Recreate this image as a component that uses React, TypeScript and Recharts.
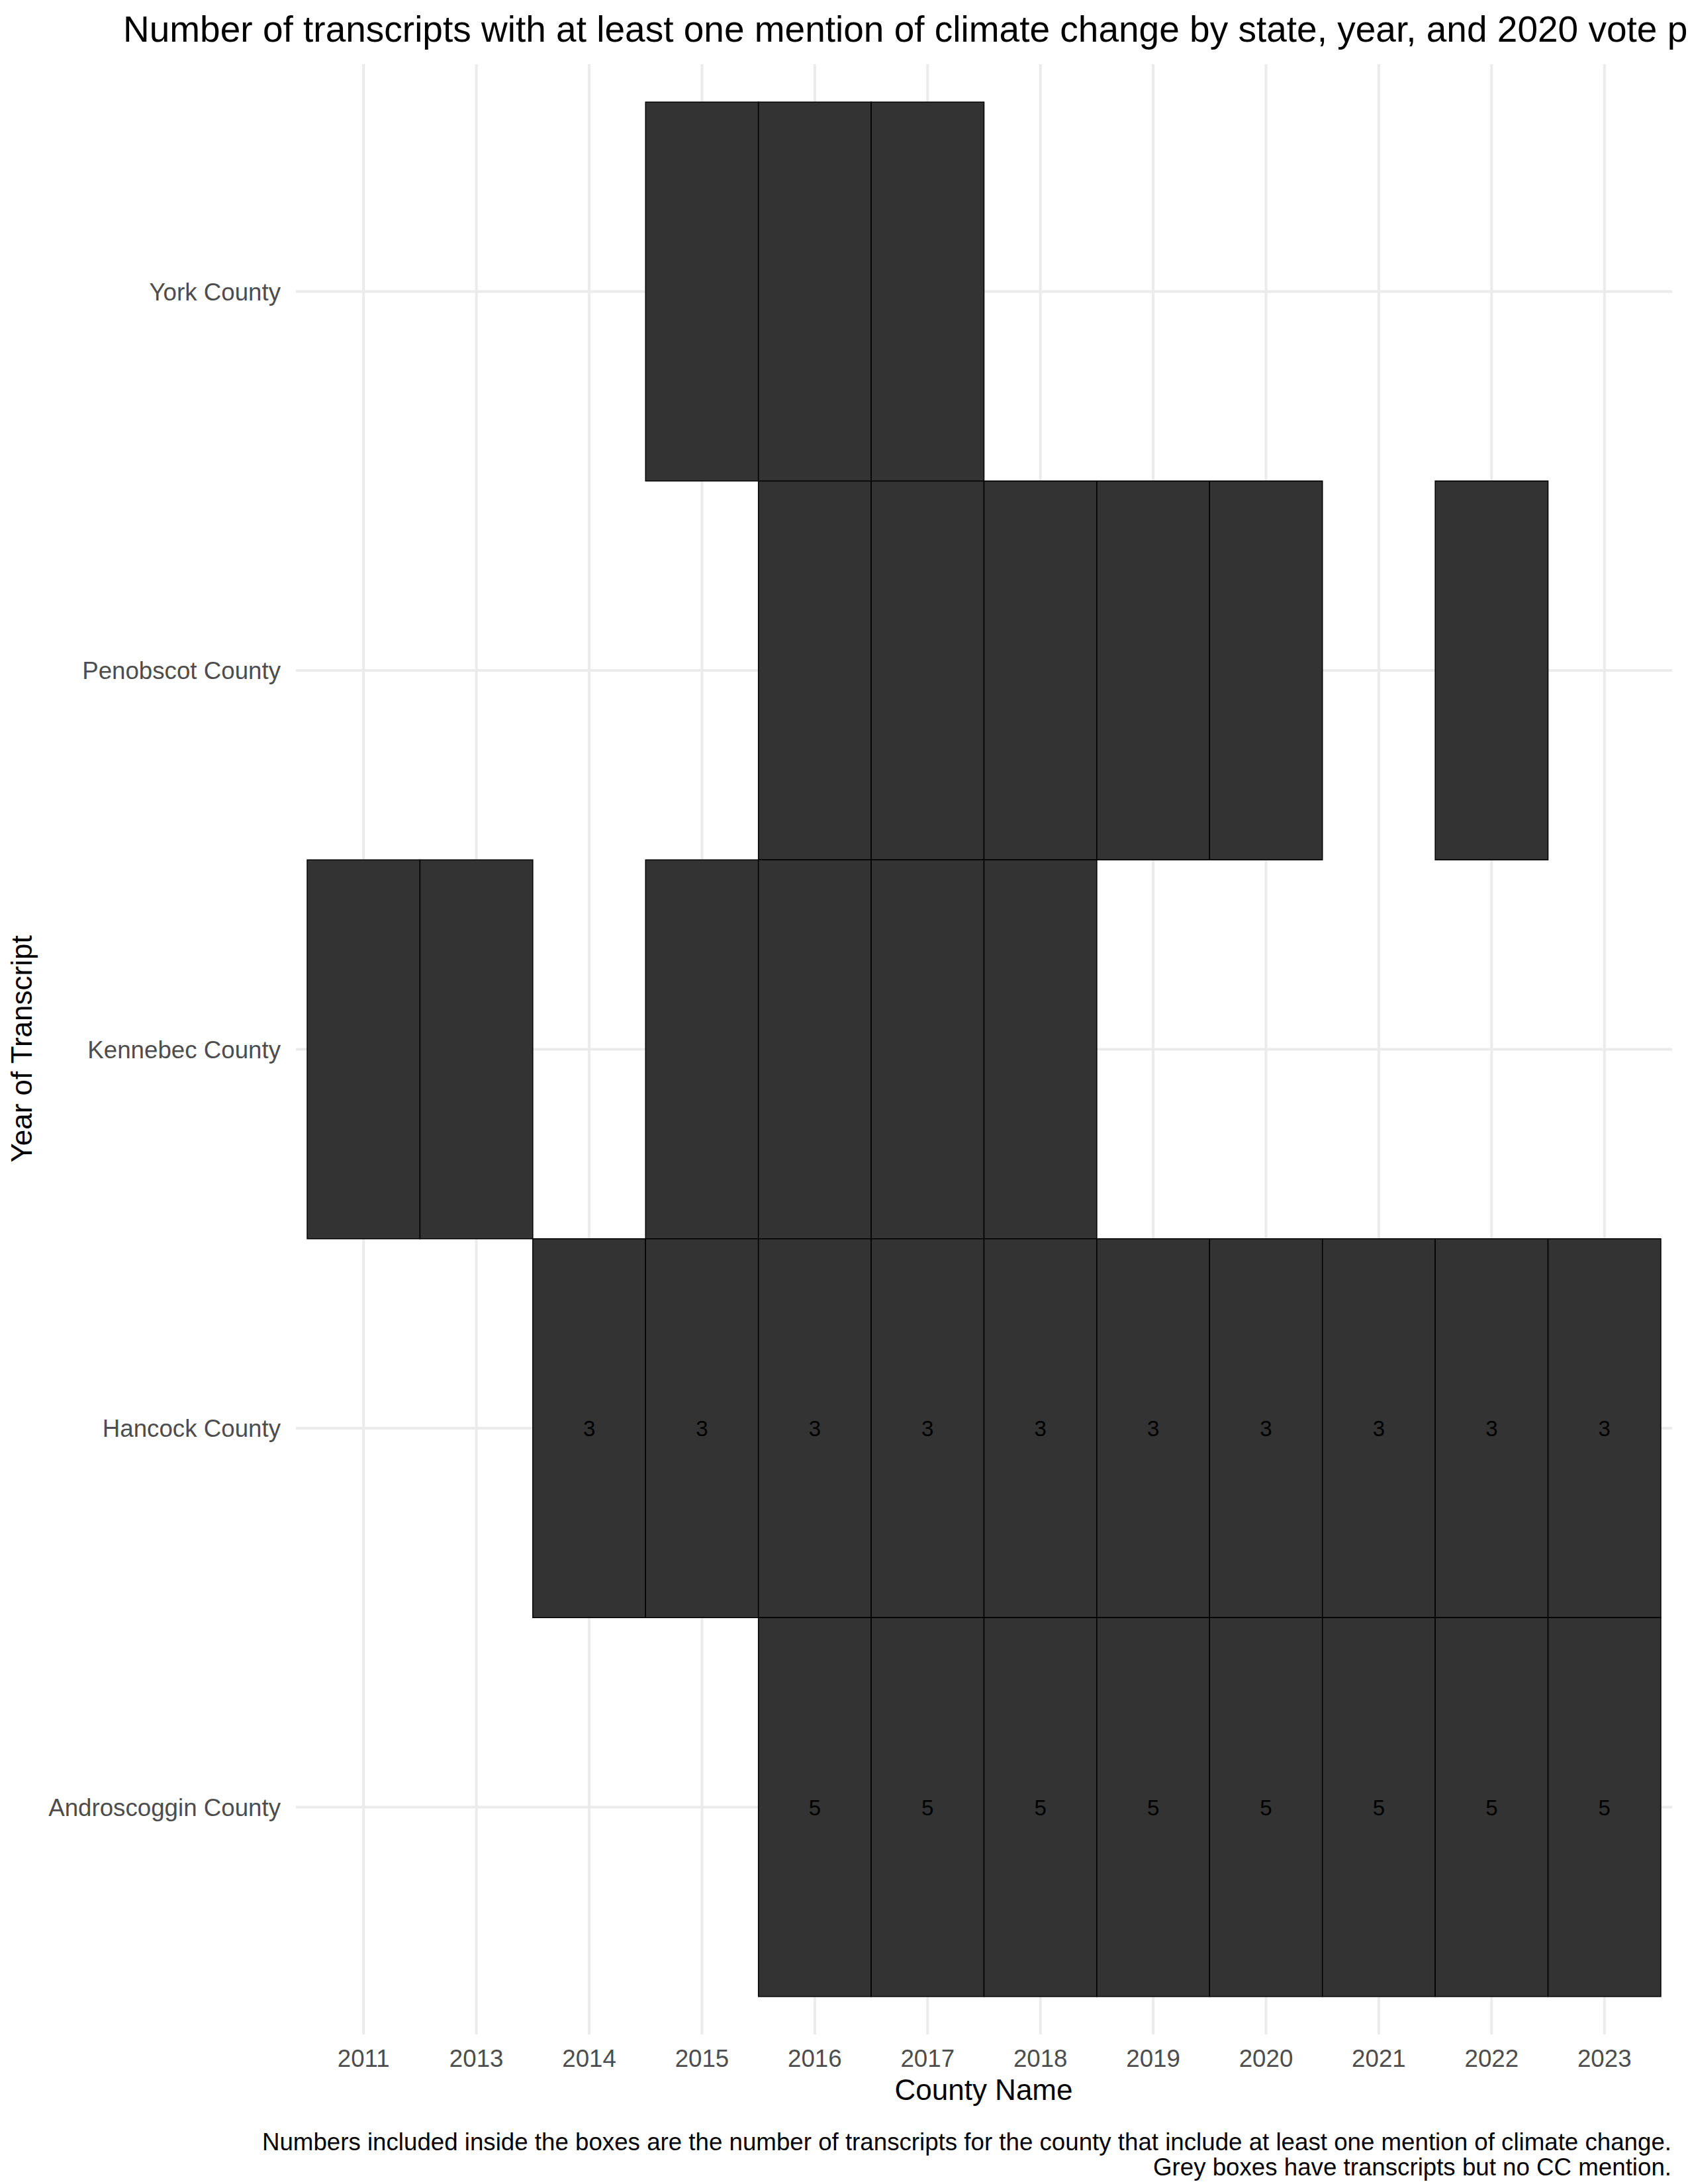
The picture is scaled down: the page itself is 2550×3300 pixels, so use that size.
import React from 'react';
import { ComposedChart, Scatter, XAxis, YAxis, CartesianGrid, ReferenceArea } from 'recharts';

// Column categories (x axis) and row categories (y axis, bottom to top)
const years = ['2011', '2013', '2014', '2015', '2016', '2017', '2018', '2019', '2020', '2021', '2022', '2023'];
const counties = ['Androscoggin County', 'Hancock County', 'Kennebec County', 'Penobscot County', 'York County'];

// Years with transcripts, per county
const yorkYears = ['2015', '2016', '2017'];
const penobscotYears = ['2016', '2017', '2018', '2019', '2020', '2022'];
const kennebecYears = ['2011', '2013', '2015', '2016', '2017', '2018'];
const hancockYears = ['2014', '2015', '2016', '2017', '2018', '2019', '2020', '2021', '2022', '2023'];
const androscogginYears = ['2016', '2017', '2018', '2019', '2020', '2021', '2022', '2023'];

// Number of transcripts with a CC mention (null = no label)
const yorkCounts = [null, null, null];
const penobscotCounts = [null, null, null, null, null, null];
const kennebecCounts = [null, null, null, null, null, null];
const hancockCounts = [3, 3, 3, 3, 3, 3, 3, 3, 3, 3];
const androscogginCounts = [5, 5, 5, 5, 5, 5, 5, 5];

const xTicks = [1, 2, 3, 4, 5, 6, 7, 8, 9, 10, 11, 12];
const yTicks = [1, 2, 3, 4, 5];
const xDomain: [number, number] = [0.4, 12.6];
const yDomain: [number, number] = [0.4, 5.6];

const TITLE = 'Number of transcripts with at least one mention of climate change by state, year, and 2020 vote percentage';
const X_TITLE = 'County Name';
const Y_TITLE = 'Year of Transcript';
const CAPTION_1 = 'Numbers included inside the boxes are the number of transcripts for the county that include at least one mention of climate change.';
const CAPTION_2 = 'Grey boxes have transcripts but no CC mention.';

type Tile = { county: string; year: string; count: number | null; x: number; y: number };

const buildRow = (county: string, ys: string[], cs: (number | null)[]): Tile[] =>
  ys.map((yr, i) => ({
    county,
    year: yr,
    count: cs[i],
    x: years.indexOf(yr) + 1,
    y: counties.indexOf(county) + 1,
  }));

const tiles: Tile[] = [
  ...buildRow('York County', yorkYears, yorkCounts),
  ...buildRow('Penobscot County', penobscotYears, penobscotCounts),
  ...buildRow('Kennebec County', kennebecYears, kennebecCounts),
  ...buildRow('Hancock County', hancockYears, hancockCounts),
  ...buildRow('Androscoggin County', androscogginYears, androscogginCounts),
];

const FONT = '"Liberation Sans", Arial, Helvetica, sans-serif';

const XTick = (props: any) => {
  const { x, y, payload } = props;
  return (
    <text x={x} y={y + 49} textAnchor="middle" fontSize={36.7} fill="#4D4D4D" fontFamily={FONT}>
      {years[payload.value - 1]}
    </text>
  );
};

const YTick = (props: any) => {
  const { x, y, payload } = props;
  return (
    <text x={x} y={y + 13} textAnchor="end" fontSize={36.7} fill="#4D4D4D" fontFamily={FONT}>
      {counties[payload.value - 1]}
    </text>
  );
};

const LabelShape = (props: any) => {
  const { cx, cy, payload } = props;
  if (payload == null || payload.count == null) return <g />;
  return (
    <text x={cx} y={cy + 12} textAnchor="middle" fontSize={33} fill="#000000" fontFamily={FONT}>
      {payload.count}
    </text>
  );
};

const scaleFn = (ax: any): ((v: number) => number) | null => {
  if (!ax) return null;
  const s = ax.scale;
  if (typeof s === 'function') return (v: number) => s(v);
  if (s && !Array.isArray(s) && typeof s.map === 'function') return (v: number) => s.map(v);
  return null;
};

const vGen = (p: any) => {
  try {
    const f = scaleFn(p && p.xAxis);
    if (f) {
      const r = xTicks.map(f);
      if (r.every((v) => Number.isFinite(v))) return r;
    }
  } catch (e) {
    // fall through
  }
  const off = p && p.offset;
  if (off && Number.isFinite(off.left) && Number.isFinite(off.width)) {
    return xTicks.map((t) => off.left + ((t - xDomain[0]) / (xDomain[1] - xDomain[0])) * off.width);
  }
  return [];
};

const hGen = (p: any) => {
  try {
    const f = scaleFn(p && p.yAxis);
    if (f) {
      const r = yTicks.map(f);
      if (r.every((v) => Number.isFinite(v))) return r;
    }
  } catch (e) {
    // fall through
  }
  const off = p && p.offset;
  if (off && Number.isFinite(off.top) && Number.isFinite(off.height)) {
    return yTicks.map((t) => off.top + ((yDomain[1] - t) / (yDomain[1] - yDomain[0])) * off.height);
  }
  return [];
};

export default function App() {
  return (
    <div style={{ position: 'absolute', left: 0, top: 0, width: 2550, height: 3300, background: '#ffffff' }}>
      <ComposedChart
        width={2550}
        height={3300}
        data={tiles}
        margin={{ top: 97, right: 24, bottom: 0, left: 0 }}
      >
        <CartesianGrid
          stroke="#EBEBEB"
          strokeWidth={4}
          verticalCoordinatesGenerator={vGen}
          horizontalCoordinatesGenerator={hGen}
        />
        <XAxis
          type="number"
          dataKey="x"
          domain={xDomain}
          ticks={xTicks}
          interval={0}
          allowDataOverflow
          axisLine={false}
          tickLine={false}
          tickSize={0}
          tickMargin={0}
          height={226}
          tick={<XTick />}
        />
        <YAxis
          type="number"
          dataKey="y"
          domain={yDomain}
          ticks={yTicks}
          interval={0}
          allowDataOverflow
          axisLine={false}
          tickLine={false}
          tickSize={0}
          tickMargin={23}
          width={447}
          tick={<YTick />}
        />
        {tiles.map((t, i) => (
          <ReferenceArea
            key={`tile-${i}`}
            x1={t.x - 0.5}
            x2={t.x + 0.5}
            y1={t.y - 0.5}
            y2={t.y + 0.5}
            fill="#333333"
            fillOpacity={1}
            stroke="#000000"
            strokeWidth={1.5}
            ifOverflow="visible"
          />
        ))}
        <Scatter data={tiles} dataKey="y" isAnimationActive={false} shape={<LabelShape />} />
      </ComposedChart>
      <svg
        width={2550}
        height={3300}
        style={{ position: 'absolute', left: 0, top: 0, pointerEvents: 'none' }}
      >
        <text x={186} y={63} fontSize={55} fill="#000000" fontFamily={FONT}>
          {TITLE}
        </text>
        <text x={1486} y={3173} textAnchor="middle" fontSize={44} fill="#000000" fontFamily={FONT}>
          {X_TITLE}
        </text>
        <text
          x={48}
          y={1585}
          transform="rotate(-90, 48, 1585)"
          textAnchor="middle"
          fontSize={44}
          fill="#000000"
          fontFamily={FONT}
        >
          {Y_TITLE}
        </text>
        <text x={2525} y={3249} textAnchor="end" fontSize={36.7} fill="#000000" fontFamily={FONT}>
          {CAPTION_1}
        </text>
        <text x={2525} y={3287} textAnchor="end" fontSize={36.7} fill="#000000" fontFamily={FONT}>
          {CAPTION_2}
        </text>
      </svg>
    </div>
  );
}
